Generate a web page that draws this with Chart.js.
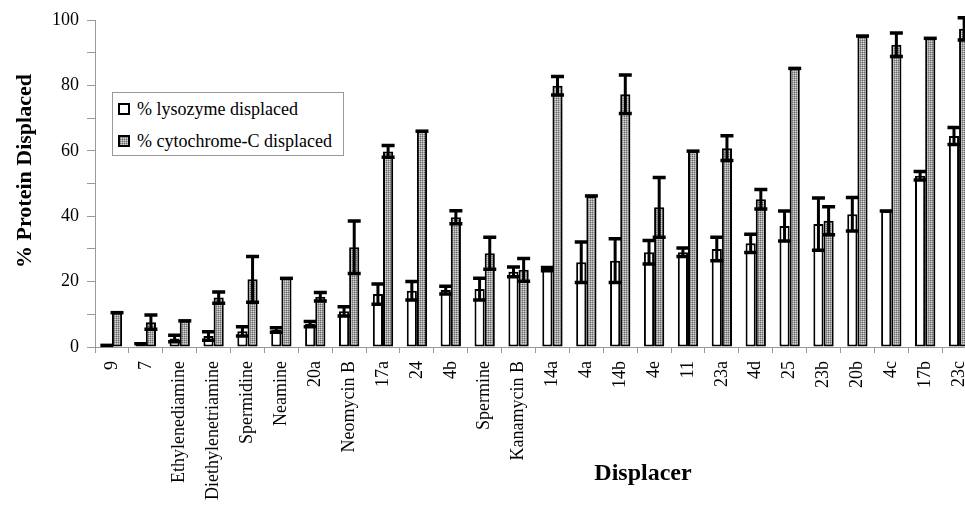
<!DOCTYPE html>
<html>
<head>
<meta charset="utf-8">
<script src="https://cdn.jsdelivr.net/npm/chart.js@4"></script>
<style>
  html, body { margin: 0; padding: 0; background: #fff; overflow: hidden; }
  #wrap { position: absolute; left: 0; top: 0; width: 980px; height: 520px; }
  #legend {
    position: absolute; left: 112px; top: 92px; width: 230px; height: 62px;
    border: 1px solid #999; background: #fff;
    font: 18px 'Liberation Serif', serif; color: #000;
  }
  #legend .row { position: absolute; left: 0; height: 20px; line-height: 20px; white-space: nowrap; }
  #legend .sw { position: absolute; left: 5px; top: 4px; width: 8px; height: 8px; border: 2px solid #000; }
  #legend .txt { position: absolute; left: 24px; top: 0; }
</style>
</head>
<body>
<div id="wrap"><canvas id="chart"></canvas></div>
<div id="legend">
  <div class="row" style="top:6px"><span class="sw" style="background:#fff"></span><span class="txt">% lysozyme displaced</span></div>
  <div class="row" style="top:38px"><span class="sw" id="sw2"></span><span class="txt">% cytochrome-C displaced</span></div>
</div>
<script>
// --- 데이터 ---
const displacers = ['9', '7', 'Ethylenediamine', 'Diethylenetriamine', 'Spermidine', 'Neamine', '20a',
    'Neomycin B', '17a', '24', '4b', 'Spermine', 'Kanamycin B', '14a', '4a', '14b', '4e', '11', '23a',
    '4d', '25', '23b', '20b', '4c', '17b', '23c'];
const lysozyme = [0.5, 1, 2.6, 3.4, 4.8, 5.2, 7, 10.9, 16.2, 17.2, 17.4, 17.7, 23, 23.8, 25.9, 26.4,
    29, 29, 30, 31.7, 37, 37.6, 40.6, 41.6, 52.4, 64.5];
const lysozymeErr = [0, 0, 1, 1.3, 1.4, 0.7, 0.8, 1.4, 3.1, 2.8, 1.2, 3.3, 1.5, 0.5, 6.2, 6.7,
    3.6, 1.3, 3.6, 2.8, 4.6, 8, 5.1, 0, 1.3, 2.6];
const cytochrome = [10.5, 7.6, 8, 15.1, 20.7, 21, 15.4, 30.5, 59.8, 66, 39.7, 28.7, 23.6, 79.9, 46.2, 77.3,
    42.7, 59.9, 60.8, 45.2, 85.2, 38.6, 95.1, 92.4, 94.4, 97.3];
const cytochromeErr = [0, 2.2, 0, 1.7, 7, 0, 1.3, 8, 1.8, 0, 2, 4.9, 3.5, 2.8, 0, 5.9,
    9.1, 0, 3.8, 3, 0, 4.3, 0, 3.6, 0, 3.4];
const yTicks = [0, 20, 40, 60, 80, 100];

const SERIF = "'Liberation Serif', 'Times New Roman', serif";

// 점묘 패턴 (회색 막대)
function makePattern() {
    const c = document.createElement('canvas');
    c.width = 2; c.height = 2;
    const g = c.getContext('2d');
    g.fillStyle = '#a4a4a4';
    g.fillRect(0, 0, 2, 2);
    g.fillStyle = '#6a6a6a';
    g.fillRect(0, 0, 1, 1);
    g.fillStyle = '#d2d2d2';
    g.fillRect(1, 1, 1, 1);
    return c;
}
const patCanvas = makePattern();
const ctx = document.getElementById('chart').getContext('2d');
const pattern = ctx.createPattern(patCanvas, 'repeat');
document.getElementById('sw2').style.background = 'url(' + patCanvas.toDataURL() + ')';

// 오차 막대 플러그인
const errorBars = {
    id: 'errorBars',
    afterDatasetsDraw(chart) {
        const y = chart.scales.y;
        const g = chart.ctx;
        const errs = [lysozymeErr, cytochromeErr];
        g.save();
        g.strokeStyle = '#000';
        g.lineCap = 'butt';
        chart.data.datasets.forEach((ds, i) => {
            const meta = chart.getDatasetMeta(i);
            meta.data.forEach((bar, j) => {
                const v = ds.data[j], e = errs[i][j];
                const top = y.getPixelForValue(v + e);
                const bot = y.getPixelForValue(Math.max(v - e, 0));
                const half = 6.5;
                if (e > 0) {
                    g.lineWidth = 3;
                    g.beginPath();
                    g.moveTo(bar.x, top);
                    g.lineTo(bar.x, bot);
                    g.stroke();
                }
                g.lineWidth = 3.5;
                g.beginPath();
                g.moveTo(bar.x - half, top);
                g.lineTo(bar.x + half, top);
                if (e > 0) {
                    g.moveTo(bar.x - half, bot);
                    g.lineTo(bar.x + half, bot);
                }
                g.stroke();
            });
        });
        g.restore();
    }
};

// 축 제목
const axisTitles = {
    id: 'axisTitles',
    afterDraw(chart) {
        const g = chart.ctx;
        g.save();
        g.fillStyle = '#000';
        g.textAlign = 'center';
        g.textBaseline = 'middle';
        g.font = 'bold 22px ' + SERIF;
        g.translate(25, 171);
        g.rotate(-Math.PI / 2);
        g.fillText('% Protein Displaced', 0, 0);
        g.setTransform(1, 0, 0, 1, 0, 0);
        g.font = 'bold 24px ' + SERIF;
        g.fillText('Displacer', 643, 474);
        g.restore();
    }
};

new Chart(ctx, {
    type: 'bar',
    data: {
        labels: displacers,
        datasets: [{
            label: '% lysozyme displaced',
            data: lysozyme,
            backgroundColor: '#fff',
            borderColor: '#000',
            borderWidth: 2,
            borderSkipped: false
        }, {
            label: '% cytochrome-C displaced',
            data: cytochrome,
            backgroundColor: pattern,
            borderColor: '#000',
            borderWidth: 2,
            borderSkipped: false
        }]
    },
    options: {
        responsive: true,
        maintainAspectRatio: false,
        animation: false,
        layout: { padding: { top: 20, right: 4, left: 0, bottom: 0 } },
        datasets: { bar: { categoryPercentage: 0.6, barPercentage: 1.0 } },
        plugins: { legend: { display: false }, tooltip: { enabled: false } },
        scales: {
            x: {
                grid: { offset: true, drawOnChartArea: false, tickLength: 6, color: '#999' },
                border: { color: '#999' },
                ticks: {
                    autoSkip: false, minRotation: 90, maxRotation: 90, padding: 8,
                    color: '#000', font: { family: SERIF, size: 18 }
                },
                afterFit(s) { s.height = 173; s.paddingLeft = 0; s.paddingRight = 0; }
            },
            y: {
                min: 0, max: 100,
                grid: { drawOnChartArea: false, tickLength: 8, color: '#999' },
                border: { color: '#999' },
                ticks: {
                    stepSize: 10, padding: 8, color: '#000',
                    font: { family: SERIF, size: 18 },
                    callback: v => yTicks.includes(v) ? v : ''
                },
                afterFit(s) { s.width = 95; s.paddingTop = 0; s.paddingBottom = 0; }
            }
        }
    },
    plugins: [errorBars, axisTitles]
});
</script>
</body>
</html>
